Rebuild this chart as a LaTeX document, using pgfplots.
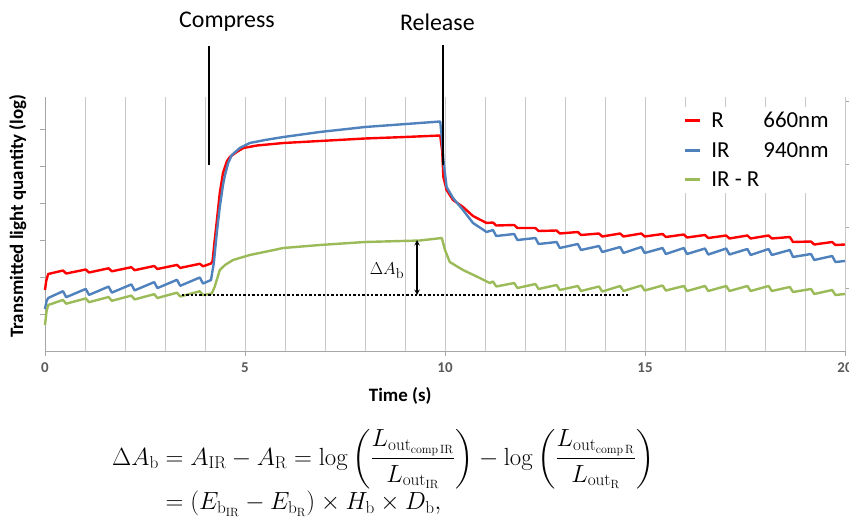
\documentclass[border=0pt]{standalone}
\usepackage[no-math]{fontspec}
\setmainfont{Carlito}
\usepackage{amsmath}
\usepackage{pgfplots}
\pgfplotsset{compat=1.18}
\definecolor{cred}{HTML}{FF0000}
\definecolor{cblue}{HTML}{4F81BD}
\definecolor{cgreen}{HTML}{9BBB59}
\definecolor{axgray}{HTML}{A6A6A6}
\definecolor{gridgray}{HTML}{C8C8C8}
\definecolor{ticktext}{HTML}{595959}
\begin{document}
\begin{tikzpicture}
\path[use as bounding box] (0bp,0bp) rectangle (849bp,-519bp);
% right-hand axis (partly hidden by the legend)
\begin{axis}[
  at={(45bp,-351bp)}, anchor=south west,
  scale only axis, width=800bp, height=254bp,
  xmin=0, xmax=20, ymin=0, ymax=254,
  axis x line=none, axis y line*=right,
  axis line style={draw=axgray, line width=1bp, -},
  ytick={63,124,187,250}, yticklabels={},
  tick align=outside, major tick length=5bp,
  tick style={draw=axgray, line width=1bp},
]
\addplot[draw=none, forget plot] coordinates {(0,0) (20,0)};
\end{axis}
\begin{axis}[
  at={(45bp,-351bp)}, anchor=south west,
  scale only axis, width=800bp, height=254bp,
  xmin=0, xmax=20, ymin=0, ymax=254,
  axis x line*=bottom, axis y line*=left,
  axis line style={draw=axgray, line width=1bp, -},
  xtick={0,5,10,15,20},
  minor xtick={1,2,3,4,6,7,8,9,11,12,13,14,16,17,18,19},
  xmajorgrids, xminorgrids,
  major grid style={draw=gridgray, line width=1bp},
  minor grid style={draw=gridgray, line width=1bp},
  ytick={37,74,111,148,185,222}, yticklabels={},
  tick align=outside, major tick length=5bp, minor tick length=0bp,
  tick style={draw=axgray, line width=1bp},
  /pgf/number format/assume math mode=true,
  xticklabel style={font=\fontsize{15}{17}\selectfont\bfseries, text=ticktext, yshift=-3bp},
  xlabel={Time (s)},
  xlabel style={at={(axis description cs:0.444,-0.177)}, anchor=center, font=\fontsize{19}{22}\selectfont\bfseries},
  ylabel={Transmitted light quantity (log)},
  ylabel style={at={(axis description cs:-0.034,0.531)}, anchor=center, font=\fontsize{19}{22}\selectfont\bfseries},
  clip=false,
  legend style={at={(axis description cs:0.794,0.96)}, anchor=north west, draw=none, fill=white,
    font=\fontsize{23}{26}\selectfont, row sep=9bp, inner sep=3bp,
    /tikz/every odd column/.style={column sep=8bp}},
  legend cell align=left,
  legend image code/.code={\draw[#1, line width=3bp] (0bp,0bp) -- (15bp,0bp);},
]
\addplot[cred, line width=2.4bp, line join=round] coordinates {
(0,61) (0.03,70) (0.08,77)
(0.45,80.5) (0.53,77.5)
(1.02,81.5) (1.10,78.5)
(1.59,82.7) (1.67,79.7)
(2.16,83.8) (2.24,80.8)
(2.73,85) (2.81,82)
(3.30,86.1) (3.38,83.1)
(3.87,87.2) (3.95,84.7)
(4.15,87.5)
(4.19,90) (4.24,110) (4.29,128) (4.37,158) (4.45,178) (4.55,190) (4.62,194) (4.79,199) (4.96,203) (5.3,205.5) (5.96,208) (6.87,210) (8.0,212.5) (9.0,214) (9.88,215.5)
(9.93,200) (9.96,174) (10.04,161) (10.2,151) (10.45,144) (10.7,135) (11.04,128)
(11.2,128.5) (11.28,125.5)
(11.73,126) (11.81,123)
(12.26,123) (12.34,120)
(12.79,120.5) (12.87,117.5)
(13.32,119) (13.40,116)
(13.85,117.5) (13.93,114.5)
(14.38,117.5) (14.46,114.5)
(14.91,117.5) (14.99,114.5)
(15.44,117) (15.52,114)
(15.97,116.5) (16.05,113.5)
(16.5,116) (16.58,113)
(17.03,115.5) (17.11,112.5)
(17.56,115.5) (17.64,112.5)
(18.09,115.5) (18.17,112.5)
(18.62,114) (18.70,109)
(19.15,109.5) (19.23,106.5)
(19.68,109) (19.76,106)
(20,106.5)
};
\addlegendentry{\makebox[52bp][l]{R}660nm}
\addplot[cblue, line width=2.4bp, line join=round] coordinates {
(0,42) (0.04,50) (0.08,53)
(0.45,59.8) (0.53,53.8)
(1.02,62.1) (1.10,56.1)
(1.59,64.4) (1.67,58.4)
(2.16,66.6) (2.24,60.6)
(2.73,68.9) (2.81,62.9)
(3.30,71.2) (3.38,65.2)
(3.87,73.5) (3.95,67.5)
(4.15,71)
(4.22,88) (4.30,120) (4.37,144) (4.45,166) (4.5,176) (4.58,188) (4.67,196) (4.87,203) (5.12,208) (5.5,211) (5.96,214) (6.87,219) (8.0,224) (9.37,228) (9.88,229.5)
(9.93,210) (9.96,191) (10.04,164) (10.2,153) (10.45,141) (10.7,128) (11.04,119)
(11.2,121) (11.28,115)
(11.73,117) (11.81,111)
(12.26,113) (12.34,107)
(12.79,109) (12.87,103)
(13.32,107) (13.40,101)
(13.85,105) (13.93,99)
(14.38,104) (14.46,98)
(14.91,104) (14.99,98)
(15.44,103) (15.52,97)
(15.97,103) (16.05,97)
(16.5,102.5) (16.58,96.5)
(17.03,102.5) (17.11,96.5)
(17.56,102) (17.64,96)
(18.09,102) (18.17,96)
(18.62,101) (18.70,94)
(19.15,97) (19.23,91)
(19.68,95) (19.76,89)
(20,90)
};
\addlegendentry{\makebox[52bp][l]{IR}940nm}
\addplot[cgreen, line width=2.4bp, line join=round] coordinates {
(0,26) (0.04,40) (0.08,46)
(0.45,51.1) (0.53,47.3)
(1.02,52.6) (1.10,48.8)
(1.59,54) (1.67,50.2)
(2.16,55.4) (2.24,51.6)
(2.73,56.8) (2.81,53)
(3.30,58.3) (3.38,54.5)
(3.87,59.7) (3.95,55.9)
(4.17,57.5) (4.24,64) (4.37,81) (4.5,86) (4.7,91) (5.12,96) (5.96,103) (6.87,106) (8.0,109) (9.37,110.5) (9.92,113)
(10.0,101) (10.12,89) (10.45,81) (10.87,73) (11.12,68)
(11.2,69.5) (11.28,64.5)
(11.73,68) (11.81,63)
(12.26,67) (12.34,62)
(12.79,66) (12.87,61)
(13.32,65) (13.40,60)
(13.85,64.5) (13.93,59.5)
(14.38,65) (14.46,60)
(14.91,65.5) (14.99,60.5)
(15.44,65.5) (15.52,60.5)
(15.97,65) (16.05,60)
(16.5,65) (16.58,60)
(17.03,65) (17.11,60)
(17.56,65) (17.64,60)
(18.09,65) (18.17,60)
(18.62,64) (18.70,59)
(19.15,62) (19.23,57)
(19.68,61) (19.76,56)
(20,57)
};
\addlegendentry{IR - R}
% annotations
\draw[black, line width=1.3bp] (axis cs:4.1,186) -- (axis cs:4.1,305);
\draw[black, line width=1.3bp] (axis cs:9.95,186) -- (axis cs:9.95,306);
\node[font=\fontsize{24}{28}\selectfont] at (axis cs:4.55,329) {Compress};
\node[font=\fontsize{24}{28}\selectfont] at (axis cs:9.81,329) {Release};
\draw[black, line width=2.4bp, dash pattern=on 2.4bp off 2bp] (axis cs:3.42,56) -- (axis cs:14.58,56);
\draw[black, line width=1.4bp, <->, >=stealth] (axis cs:9.3,56) -- (axis cs:9.3,111);
\node[font=\fontsize{19}{22}\selectfont] at (axis cs:8.55,80) {$\Delta A_\mathrm{b}$};
\end{axis}
\node[anchor=north west, inner sep=0pt] at (112bp,-429bp) {\fontsize{24.5}{29}\selectfont
$\begin{aligned}
\Delta A_\mathrm{b} &= A_\mathrm{IR} - A_\mathrm{R} = \log\left(\frac{L_{\mathrm{out}_{\mathrm{comp\,IR}}}}{L_{\mathrm{out}_{\mathrm{IR}}}}\right) - \log\left(\frac{L_{\mathrm{out}_{\mathrm{comp\,R}}}}{L_{\mathrm{out}_{\mathrm{R}}}}\right)\\[-3bp]
&= \left(E_{\mathrm{b}_{\mathrm{IR}}} - E_{\mathrm{b}_{\mathrm{R}}}\right) \times H_\mathrm{b} \times D_\mathrm{b},
\end{aligned}$};
\end{tikzpicture}
\end{document}
